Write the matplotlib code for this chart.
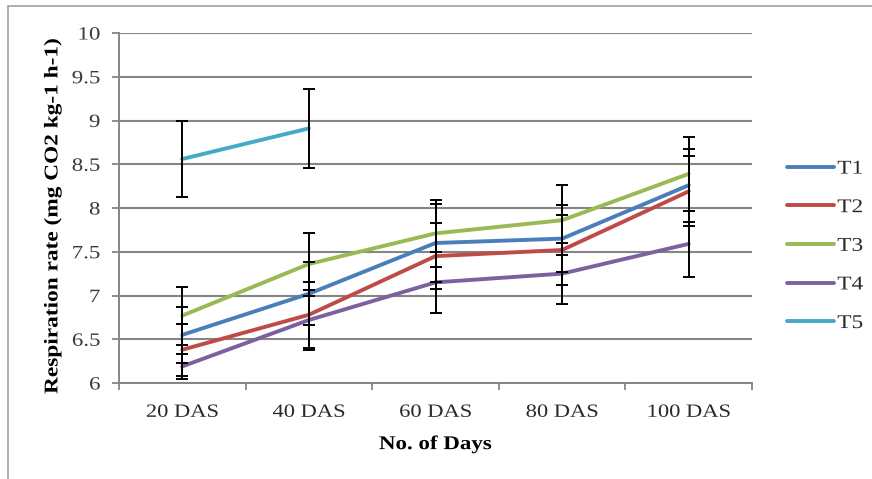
import matplotlib
matplotlib.use("Agg")
import matplotlib.pyplot as plt
from matplotlib.patches import Rectangle
from matplotlib.patheffects import AbstractPathEffect
from matplotlib.transforms import Affine2D

# Sampling dates
categories = ["20 DAS", "40 DAS", "60 DAS", "80 DAS", "100 DAS"]

# Mean respiration rate per treatment
t1 = [6.55, 7.02, 7.60, 7.65, 8.26]
t2 = [6.38, 6.78, 7.45, 7.52, 8.19]
t3 = [6.77, 7.36, 7.71, 7.86, 8.39]
t4 = [6.19, 6.72, 7.15, 7.25, 7.59]
t5 = [8.56, 8.91]

# Error bar half-widths
t1_err = [0.32, 0.36, 0.45, 0.38, 0.42]
t2_err = [0.30, 0.38, 0.38, 0.40, 0.40]
t3_err = [0.33, 0.36, 0.38, 0.40, 0.42]
t4_err = [0.14, 0.34, 0.35, 0.35, 0.38]
t5_err = [0.43, 0.45]

series_names = ["T1", "T2", "T3", "T4", "T5"]
series_values = [t1, t2, t3, t4, t5]
series_errors = [t1_err, t2_err, t3_err, t4_err, t5_err]
colors = ["#4a7ebb", "#be4b48", "#98b954", "#7d60a0", "#46aac5"]

y_ticks = [6, 6.5, 7, 7.5, 8, 8.5, 9, 9.5, 10]
y_tick_labels = ["6", "6.5", "7", "7.5", "8", "8.5", "9", "9.5", "10"]


class Stretch(AbstractPathEffect):
    """Widen glyphs along the reading direction, keeping an anchor fixed."""

    def __init__(self, sx=1.2, anchor="center"):
        super().__init__()
        self.sx = sx
        self.anchor = anchor

    def draw_path(self, renderer, gc, tpath, affine, rgbFace=None):
        xs = tpath.vertices[:, 0]
        if len(xs) == 0:
            return
        lo, hi = xs.min(), xs.max()
        c = {"left": 0.0, "center": (lo + hi) / 2, "right": hi}[self.anchor]
        t = Affine2D().translate(-c, 0).scale(self.sx, 1).translate(c, 0) + affine
        renderer.draw_path(gc, tpath, t, rgbFace)


plt.rcParams["font.family"] = ["Liberation Serif", "DejaVu Serif"]

fig = plt.figure(figsize=(8.72, 4.79), dpi=100)
fig.patches.append(Rectangle((8 / 872, -0.1), 1.2, 1 - 6 / 479 + 0.1,
                             transform=fig.transFigure, fill=False,
                             edgecolor="#a0a0a0", linewidth=1.2))

ax = fig.add_axes([119 / 872, 1 - 383 / 479, (752 - 119) / 872, (383 - 33) / 479])

x = list(range(len(categories)))
lines = []
for name, vals, errs, col in zip(series_names, series_values, series_errors, colors):
    xs = x[:len(vals)]
    (ln,) = ax.plot(xs, vals, color=col, linewidth=2.8, label=name,
                    solid_capstyle="round", zorder=3)
    ax.errorbar(xs, vals, yerr=errs, fmt="none", ecolor="black",
                elinewidth=1.4, capsize=4, capthick=1.4, zorder=4)
    lines.append(ln)

ax.set_xlim(-0.5, len(categories) - 0.5)
ax.set_ylim(6, 10)
ax.set_yticks(y_ticks)
ax.set_yticklabels(y_tick_labels)
ax.set_xticks(x)
ax.set_xticklabels(categories)
ax.set_xticks([i - 0.5 for i in range(len(categories) + 1)], minor=True)

ax.yaxis.grid(True, color="#858585", linewidth=1.5)
ax.set_axisbelow(True)

for s in ["top", "right"]:
    ax.spines[s].set_visible(False)
for s in ["left", "bottom"]:
    ax.spines[s].set_color("#858585")
    ax.spines[s].set_linewidth(1.4)

ax.tick_params(axis="y", which="major", length=5, color="#858585", width=1.3,
               labelsize=13.5, labelcolor="#3a3a3a", pad=8.5)
ax.tick_params(axis="x", which="major", length=0, labelsize=13.5,
               labelcolor="#2a2a2a", pad=15)
ax.tick_params(axis="x", which="minor", length=5, color="#858585", width=1.3)

for lbl in ax.get_yticklabels():
    lbl.set_path_effects([Stretch(1.22, "right")])
for lbl in ax.get_xticklabels():
    lbl.set_path_effects([Stretch(1.2, "center")])

xl = ax.set_xlabel("No. of Days", fontsize=14, fontweight="bold", labelpad=11)
xl.set_path_effects([Stretch(1.18, "center")])
yl = ax.set_ylabel("Respiration rate (mg CO2 kg-1 h-1)", fontsize=14,
                   fontweight="bold", labelpad=11)
yl.set_y(0.479)
yl.set_path_effects([Stretch(1.2, "center")])

leg = fig.legend(handles=lines, labels=series_names, loc="center left",
                 bbox_to_anchor=(777 / 872, 1 - 246 / 479), frameon=False,
                 fontsize=14, handlelength=2.45, handletextpad=0.15,
                 labelspacing=1.08, borderpad=0)
for txt in leg.get_texts():
    txt.set_color("#2a2a2a")
    txt.set_path_effects([Stretch(1.2, "left")])

fig.savefig("out.png", dpi=100)
